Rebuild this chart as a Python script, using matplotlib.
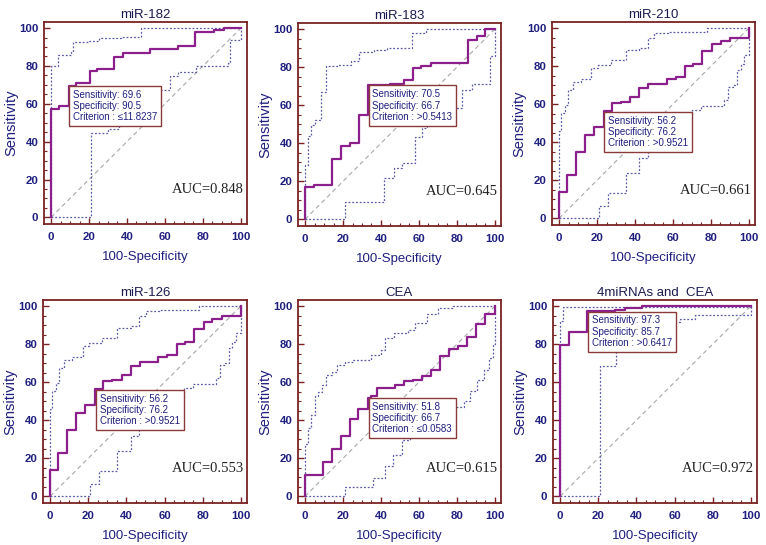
import matplotlib
matplotlib.use("Agg")
import matplotlib.pyplot as plt
from matplotlib.ticker import MultipleLocator

plt.rcParams['font.family'] = ['Liberation Sans', 'DejaVu Sans']

# ---------------- data ----------------
titles = ["miR-182", "miR-183", "miR-210", "miR-126", "CEA", "4miRNAs and  CEA"]
auc_labels = ["AUC=0.848", "AUC=0.645", "AUC=0.661", "AUC=0.553", "AUC=0.615", "AUC=0.972"]
sens_vals = ["69.6", "70.5", "56.2", "56.2", "51.8", "97.3"]
spec_vals = ["90.5", "66.7", "76.2", "76.2", "66.7", "85.7"]
criteria = ["\u226411.8237", ">0.5413", ">0.9521", ">0.9521", "\u22640.0583", ">0.6417"]

# ROC curves (100-Specificity, Sensitivity), step "post" form
roc_182_x = [0, 0, 4, 9.5, 13, 20.4, 24, 33, 37.8, 52.2, 66.8, 76, 86, 91, 100]
roc_182_y = [0, 57, 58.8, 69.6, 71, 77.5, 78.6, 84.6, 86.7, 88.8, 90.4, 97.9, 99, 100, 100]
up_182_x = [0, 0, 3.5, 10.5, 11.5, 20, 25, 37, 47.5, 100]
up_182_y = [0, 79.9, 86, 87.5, 92.5, 93, 95, 95.5, 100, 100]
lo_182_x = [0, 20.9, 30, 35.7, 62.4, 66.8, 76.4, 93, 94, 100]
lo_182_y = [0, 44.8, 46.8, 67.3, 74.6, 76.7, 79.9, 81.6, 93.5, 100]

roc_183_x = [0, 0, 4.9, 14.2, 18.9, 23.8, 28.5, 33.3, 45, 52, 57, 61, 66.4, 85.7, 90.6, 95, 100]
roc_183_y = [0, 17, 18.2, 31.8, 38.5, 40.2, 55, 70.5, 71.3, 73.4, 79.5, 80.4, 82.2, 94.4, 96.2, 100, 100]
up_183_x = [0, 0, 1.4, 3.1, 5.4, 8.4, 11, 17, 24, 28.5, 36.4, 43.4, 56.5, 63.5, 100]
up_183_y = [0, 28.8, 43.7, 49.8, 52, 66.8, 80.4, 81, 83, 88, 89.2, 90, 97.9, 100, 100]
lo_183_x = [0, 21.2, 41.6, 46.9, 51.2, 57.9, 61.4, 64, 70, 82.7, 88, 97.6, 100]
lo_183_y = [0, 9.3, 21.9, 27.1, 29.7, 43.4, 48, 52, 58.6, 68.2, 71.3, 85.7, 100]

roc_210_x = [0, 0, 4.4, 9.1, 13.8, 18.4, 23.6, 28, 32.7, 37.6, 42.3, 47, 56.6, 61.5, 66.3, 70.8, 75.5, 80.6, 85.1, 90, 100]
roc_210_y = [0, 13.7, 22.8, 34.7, 43.9, 48.2, 56.2, 60.5, 61.4, 64, 68.4, 70.5, 73.2, 74.2, 80.2, 81.2, 88.2, 91.8, 93.3, 94.7, 100]
up_210_x = [0, 0, 1.2, 3.3, 4.7, 7.3, 11.7, 17, 20.5, 27.4, 35.3, 42.3, 46.7, 50.2, 57.2, 78, 100]
up_210_y = [0, 46, 55.6, 59.6, 67.2, 71.9, 73, 78.9, 80.4, 83, 88.6, 89.5, 94.7, 97.4, 98, 100, 100]
lo_210_x = [0, 20.8, 25.7, 35.3, 42.3, 46.7, 51.9, 60, 66, 70, 74.7, 86.9, 89, 91.8, 93.9, 95.6, 97.4, 100]
lo_210_y = [0, 6.7, 13.5, 24, 31.6, 36, 42, 48, 52.3, 57, 58.8, 62.3, 68.9, 70.2, 78, 81.2, 86, 100]

roc_126_x = list(roc_210_x)
roc_126_y = list(roc_210_y)
up_126_x = list(up_210_x)
up_126_y = list(up_210_y)
lo_126_x = list(lo_210_x)
lo_126_y = list(lo_210_y)

roc_cea_x = [0, 0, 9.3, 14.2, 18.9, 23.8, 28.1, 33.3, 35, 38, 47.4, 52.1, 56.8, 61.4, 66.1, 71, 75.7, 80.4, 85.3, 90, 94.9, 100]
roc_cea_y = [0, 11, 18, 25, 31.5, 40.5, 46, 51.8, 53, 57, 58.7, 60.6, 61.3, 63, 66.2, 74, 77.2, 79, 84, 90.7, 96, 100]
up_cea_x = [0, 0, 1.4, 3.1, 5.4, 7, 9, 11, 14, 17, 21, 25, 35, 40, 42, 47, 54, 58, 64, 70, 78, 100]
up_cea_y = [0, 27.7, 36, 43, 52.5, 54.8, 58.7, 64, 65.3, 68.8, 70.6, 71.8, 74.4, 76.7, 83.4, 86, 87.2, 91.2, 95.9, 99.1, 100, 100]
lo_cea_x = [0, 21.2, 35.8, 42.1, 46.3, 51.2, 55.1, 58, 62, 68, 77, 83.6, 87, 90.5, 94, 97, 99, 100]
lo_cea_y = [0, 4.9, 9.8, 15.8, 21.5, 29.4, 33, 37, 40, 44, 46.9, 49.9, 55.3, 61.3, 66.2, 72.9, 80.2, 100]

roc_all_x = [0, 0, 4.6, 14.3, 29, 34, 43, 100]
roc_all_y = [0, 79.4, 86.6, 97.3, 97.9, 98.8, 100, 100]
up_all_x = [0, 0, 1.8, 100]
up_all_y = [0, 92.1, 99.5, 100]
lo_all_x = [0, 21.1, 29.5, 39, 45, 52, 59, 62.8, 70.7, 100]
lo_all_y = [0, 68.4, 76.4, 80, 86, 90, 91.6, 93, 95.3, 100]

roc_x = [roc_182_x, roc_183_x, roc_210_x, roc_126_x, roc_cea_x, roc_all_x]
roc_y = [roc_182_y, roc_183_y, roc_210_y, roc_126_y, roc_cea_y, roc_all_y]
up_x = [up_182_x, up_183_x, up_210_x, up_126_x, up_cea_x, up_all_x]
up_y = [up_182_y, up_183_y, up_210_y, up_126_y, up_cea_y, up_all_y]
lo_x = [lo_182_x, lo_183_x, lo_210_x, lo_126_x, lo_cea_x, lo_all_x]
lo_y = [lo_182_y, lo_183_y, lo_210_y, lo_126_y, lo_cea_y, lo_all_y]

# ---------------- styling / layout ----------------
W, H = 766, 545
frames_px = [(44, 22, 203, 202), (298, 23, 203, 203), (552, 22, 203, 203),
             (43, 300, 204, 203), (298, 300, 203, 203), (553, 300, 204, 203)]

FRAME = '#7a2222'
NAVY = '#1f1f80'
PURPLE = '#8b1f8b'
CI = '#5a5aa8'
DIAG = '#a8a8a8'

fig = plt.figure(figsize=(W / 100, H / 100), dpi=100)
fig.patch.set_facecolor('white')

for i in range(6):
    l, t, w, h = frames_px[i]
    ax = fig.add_axes([l / W, (H - t - h) / H, w / W, h / H])
    ax.set_xlim(-3.7, 103.2)
    ax.set_ylim(-3.5, 103.2)
    for s in ax.spines.values():
        s.set_color(FRAME)
        s.set_linewidth(1.3)
    ax.xaxis.set_major_locator(MultipleLocator(20))
    ax.yaxis.set_major_locator(MultipleLocator(20))
    ax.xaxis.set_minor_locator(MultipleLocator(5))
    ax.yaxis.set_minor_locator(MultipleLocator(5))
    ax.tick_params(which='major', direction='in', length=4, width=1, color=FRAME,
                   labelsize=8.2, labelcolor=NAVY)
    ax.tick_params(which='minor', direction='in', length=2, width=0.8, color=FRAME)
    ax.tick_params(axis='x', which='major', pad=6)
    ax.tick_params(axis='y', which='major', pad=4)
    for lab in ax.get_xticklabels() + ax.get_yticklabels():
        lab.set_fontweight('bold')

    ax.plot([0, 100], [0, 100], color=DIAG, lw=0.8, ls=(0, (4, 3)), zorder=1)
    ax.step(up_x[i], up_y[i], where='post', color=CI, lw=0.9, ls=(0, (1.5, 1.5)), zorder=2)
    ax.step(lo_x[i], lo_y[i], where='post', color=CI, lw=0.9, ls=(0, (1.5, 1.5)), zorder=2)
    ax.step(roc_x[i], roc_y[i], where='post', color=PURPLE, lw=1.6, zorder=3)

    # criterion box anchored at its top-left corner on the criterion point
    cx = 100 - float(spec_vals[i])
    cy = float(sens_vals[i])
    txt = "Sensitivity: %s\nSpecificity: %s\nCriterion : %s" % (sens_vals[i], spec_vals[i], criteria[i])
    ax.annotate(txt, xy=(cx, cy), xytext=(3, -3), textcoords='offset points',
                ha='left', va='top', fontsize=7, color=NAVY, linespacing=1.15,
                bbox=dict(boxstyle='square,pad=0.4', fc='white', ec='#8b3a3a', lw=1.0),
                zorder=5)

    ax.text(101.5, 14.5, auc_labels[i], ha='right', va='center', fontsize=10.5,
            family=['Liberation Serif', 'DejaVu Serif'], color='#222222', zorder=6)

    ax.set_title(titles[i], fontsize=9.5, color='#1a1a50', pad=3)
    ax.set_xlabel("100-Specificity", fontsize=9.5, color=NAVY, labelpad=6)
    ax.set_ylabel("Sensitivity", fontsize=10.5, color=NAVY, labelpad=0.5)

fig.savefig("out.png", dpi=100, facecolor='white')
